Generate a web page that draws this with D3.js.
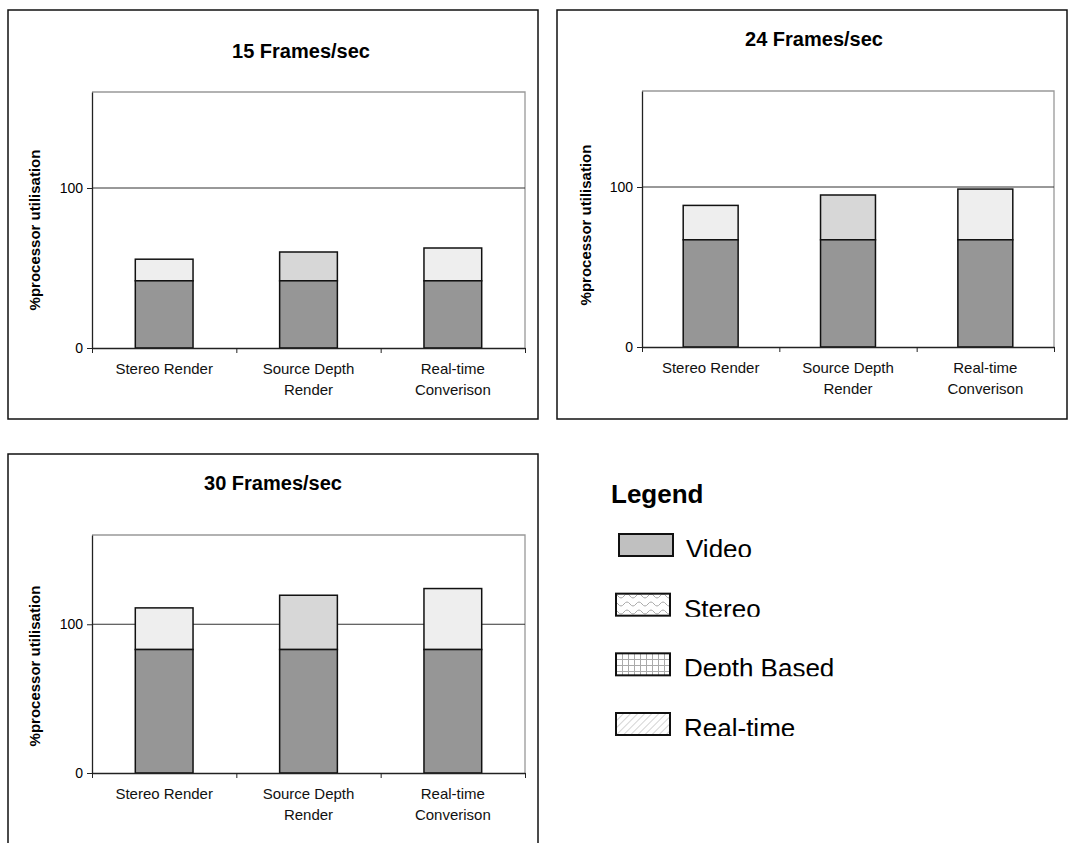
<!DOCTYPE html>
<html>
<head>
<meta charset="utf-8">
<script src="https://cdn.jsdelivr.net/npm/d3@7/dist/d3.min.js"></script>
<style>
  html, body { margin: 0; padding: 0; background: #fff; }
  svg { display: block; font-family: "Liberation Sans", Arial, sans-serif; }
</style>
</head>
<body>
<svg id="chart" width="1069" height="843"></svg>
<script>
// ---------------- data ----------------
const categoryLines = [["Stereo Render"], ["Source Depth", "Render"], ["Real-time", "Converison"]];
const frameRates = ["15 Frames/sec", "24 Frames/sec", "30 Frames/sec"];
const videoLoad = [42, 67, 83];          // per frame rate
const stereoLoad = [13.5, 21.5, 28];     // extra on Stereo Render
const depthLoad = [18, 28, 36.5];        // extra on Source Depth Render
const realtimeLoad = [20.5, 31.7, 41];   // extra on Real-time Conversion
const yTicks = [0, 100];
const yMax = 160;
const legendNames = ["Video", "Stereo", "Depth Based", "Real-time"];
const yLabel = "%processor utilisation";

// ---------------- layout ----------------
const panels = [
  { box: [8, 10, 538, 419], plot: [92, 92, 525, 348], titleX: 301, titleY: 58, ylabX: 40, ylabY: 230 },
  { box: [557, 10, 1067, 419], plot: [642, 91, 1054, 347], titleX: 814, titleY: 46, ylabX: 591, ylabY: 225 },
  { box: [8, 454, 538, 870], plot: [92, 535, 525, 773], titleX: 273, titleY: 490, ylabX: 40, ylabY: 666 }
];
const topFills = ["#eeeeee", "#d7d7d7", "#eeeeee"];
const videoFill = "#969696";

const svg = d3.select("#chart");

panels.forEach((p, pi) => {
  const g = svg.append("g");
  const [bx0, by0, bx1, by1] = p.box;
  const [px0, py0, px1, py1] = p.plot;

  g.append("rect").attr("x", bx0).attr("y", by0).attr("width", bx1 - bx0).attr("height", by1 - by0)
    .attr("fill", "#fff").attr("stroke", "#111").attr("stroke-width", 1.5);

  const x = d3.scaleBand().domain([0, 1, 2]).range([px0, px1]).paddingInner(0.6).paddingOuter(0.3);
  const xEdge = d3.scaleLinear().domain([0, 3]).range([px0, px1]);
  const y = d3.scaleLinear().domain([0, yMax]).range([py1, py0]);

  // frame top/right
  g.append("path").attr("d", `M${px0},${py0}H${px1}V${py1}`).attr("fill", "none")
    .attr("stroke", "#999").attr("stroke-width", 1.3);

  // gridline at 100
  g.append("line").attr("x1", px0).attr("x2", px1).attr("y1", y(100)).attr("y2", y(100))
    .attr("stroke", "#333").attr("stroke-width", 1);

  // title
  g.append("text").attr("x", p.titleX).attr("y", p.titleY).attr("text-anchor", "middle")
    .attr("font-size", 20).attr("font-weight", "bold").attr("fill", "#000").text(frameRates[pi]);

  // y label
  g.append("text").attr("transform", `translate(${p.ylabX},${p.ylabY}) rotate(-90)`)
    .attr("text-anchor", "middle").attr("font-size", 15).attr("font-weight", "bold")
    .attr("fill", "#000").text(yLabel);

  // bars
  const tops = [stereoLoad[pi], depthLoad[pi], realtimeLoad[pi]];
  const v = videoLoad[pi];
  [0, 1, 2].forEach(ci => {
    g.append("rect").attr("x", x(ci)).attr("width", x.bandwidth())
      .attr("y", y(v + tops[ci])).attr("height", y(v) - y(v + tops[ci]))
      .attr("fill", topFills[ci]).attr("stroke", "#111").attr("stroke-width", 1.5);
    g.append("rect").attr("x", x(ci)).attr("width", x.bandwidth())
      .attr("y", y(v)).attr("height", y(0) - y(v))
      .attr("fill", videoFill).attr("stroke", "#111").attr("stroke-width", 1.5);
  });

  // y axis
  const ya = g.append("g").attr("transform", `translate(${px0},0)`)
    .call(d3.axisLeft(y).tickValues(yTicks).tickSize(5).tickSizeOuter(0).tickPadding(4).tickFormat(d3.format("d")));
  ya.select(".domain").attr("stroke", "#222").attr("stroke-width", 1.3);
  ya.selectAll(".tick line").attr("stroke", "#222");
  ya.selectAll(".tick text").attr("font-size", 14).attr("fill", "#000")
    .attr("font-family", "Liberation Sans, Arial, sans-serif");

  // x axis
  const xa = g.append("g").attr("transform", `translate(0,${py1})`)
    .call(d3.axisBottom(xEdge).tickValues([0, 1, 2, 3]).tickSize(5).tickSizeOuter(0).tickFormat(""));
  xa.select(".domain").attr("stroke", "#222").attr("stroke-width", 1.5);
  xa.selectAll(".tick line").attr("stroke", "#222");

  // category labels
  [0, 1, 2].forEach(ci => {
    const t = g.append("text").attr("text-anchor", "middle").attr("font-size", 15).attr("fill", "#111")
      .attr("x", x(ci) + x.bandwidth() / 2).attr("y", py1 + 26);
    categoryLines[ci].forEach((ln, li) => {
      t.append("tspan").attr("x", x(ci) + x.bandwidth() / 2).attr("dy", li === 0 ? 0 : 21).text(ln);
    });
  });
});

// ---------------- legend ----------------
const defs = svg.append("defs");
const pw = defs.append("pattern").attr("id", "pWave").attr("patternUnits", "userSpaceOnUse")
  .attr("width", 12).attr("height", 8);
pw.append("rect").attr("width", 12).attr("height", 8).attr("fill", "#fff");
pw.append("path").attr("d", "M0,4 Q3,0 6,4 T12,4").attr("fill", "none").attr("stroke", "#aaa").attr("stroke-width", 1);
const pg = defs.append("pattern").attr("id", "pGrid").attr("patternUnits", "userSpaceOnUse")
  .attr("width", 6).attr("height", 6).attr("x", 616).attr("y", 653);
pg.append("rect").attr("width", 6).attr("height", 6).attr("fill", "#fff");
pg.append("path").attr("d", "M0.5,0V6M0,0.5H6").attr("stroke", "#aaa").attr("stroke-width", 1);
const pd = defs.append("pattern").attr("id", "pDiag").attr("patternUnits", "userSpaceOnUse")
  .attr("width", 5).attr("height", 5).attr("patternTransform", "rotate(45)");
pd.append("rect").attr("width", 5).attr("height", 5).attr("fill", "#fff");
pd.append("line").attr("x1", 0).attr("x2", 0).attr("y1", 0).attr("y2", 5).attr("stroke", "#aaa").attr("stroke-width", 1);

const legendFills = ["#c0c0c0", "url(#pWave)", "url(#pGrid)", "url(#pDiag)"];
const legendY = d3.scalePoint().domain(legendNames).range([534, 713]);

svg.append("text").attr("x", 611).attr("y", 503).attr("font-size", 26).attr("font-weight", "bold")
  .attr("fill", "#000").text("Legend");

legendNames.forEach((name, i) => {
  const yy = legendY(name);
  const sx = i === 0 ? 619 : 616;
  const tx = i === 0 ? 686 : 684;
  defs.append("clipPath").attr("id", "lc" + i).append("rect")
    .attr("x", tx - 2).attr("y", yy - 30).attr("width", 300).attr("height", 53);
  svg.append("rect").attr("x", sx).attr("y", yy).attr("width", 54).attr("height", 22)
    .attr("fill", legendFills[i]).attr("stroke", "#111").attr("stroke-width", 2);
  svg.append("text").attr("x", tx).attr("y", yy + 24).attr("font-size", 26).attr("fill", "#000")
    .attr("clip-path", `url(#lc${i})`).text(name);
});
</script>
</body>
</html>
